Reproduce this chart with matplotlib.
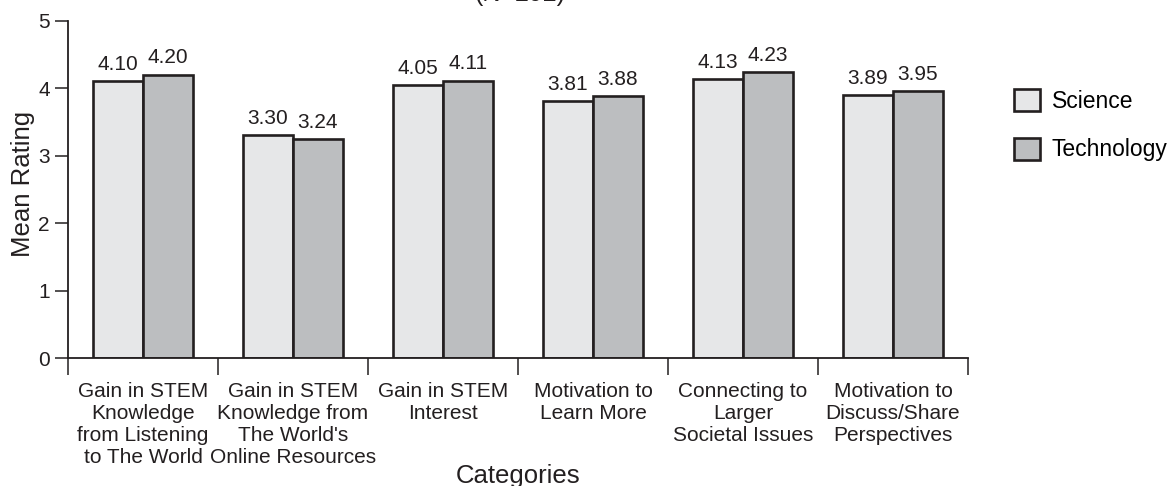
import matplotlib
matplotlib.use("Agg")
import matplotlib.pyplot as plt
import numpy as np

plt.rcParams['font.family'] = ['Liberation Sans', 'DejaVu Sans']

categories = [
    "Gain in STEM\nKnowledge\nfrom Listening\nto The World",
    "Gain in STEM\nKnowledge from\nThe World's\nOnline Resources",
    "Gain in STEM\nInterest",
    "Motivation to\nLearn More",
    "Connecting to\nLarger\nSocietal Issues",
    "Motivation to\nDiscuss/Share\nPerspectives",
]
science = [4.10, 3.30, 4.05, 3.81, 4.13, 3.89]
technology = [4.20, 3.24, 4.11, 3.88, 4.23, 3.95]
series_names = ["Science", "Technology"]
subtitle = "(N=292)"

ink = "#231f20"
c_sci = "#e6e7e8"
c_tech = "#bcbec0"

W, H = 1176, 486
fig = plt.figure(figsize=(W / 100, H / 100), dpi=100)
ax = fig.add_axes([68 / W, 1 - 358 / H, 900 / W, 337.5 / H])

x = np.arange(len(categories))
bw = 1 / 3
b1 = ax.bar(x - bw / 2, science, bw, color=c_sci, edgecolor=ink, linewidth=1.9,
            label=series_names[0], zorder=2)
b2 = ax.bar(x + bw / 2, technology, bw, color=c_tech, edgecolor=ink, linewidth=1.9,
            label=series_names[1], zorder=2)

# value labels above each bar
for bars, vals in ((b1, science), (b2, technology)):
    for rect, v in zip(bars, vals):
        ax.annotate(f"{v:.2f}", (rect.get_x() + rect.get_width() / 2, v),
                    xytext=(0, 8), textcoords="offset points",
                    ha="center", va="baseline", fontsize=15, color=ink)

ax.set_xlim(-0.5, len(categories) - 0.5)
ax.set_ylim(0, 5)
ax.set_yticks(range(6))

# category names at group centres, tick marks at group boundaries
ax.set_xticks(x)
ax.set_xticklabels(categories, fontsize=15, color=ink, linespacing=1.2)
ax.set_xticks(np.arange(-0.5, len(categories)), minor=True)
ax.tick_params(axis="x", which="major", length=0, pad=17)
ax.tick_params(axis="x", which="minor", length=12.2, width=1.1, color=ink, direction="out")
ax.tick_params(axis="y", length=9.4, width=1.1, color=ink, pad=3.6, labelsize=15,
               labelcolor=ink)

for side in ("top", "right"):
    ax.spines[side].set_visible(False)
for side in ("left", "bottom"):
    ax.spines[side].set_color(ink)
    ax.spines[side].set_linewidth(1.3)

ax.set_ylabel("Mean Rating", fontsize=18.5, color=ink)
ax.yaxis.set_label_coords((35 - 68) / 900, (358 - 184) / 337.5)
ax.set_xlabel("Categories", fontsize=18.5, color=ink)
ax.xaxis.set_label_coords(0.5, (358 - 464) / 337.5)

fig.legend(handles=[b1, b2], loc="upper left",
           bbox_to_anchor=(1014 / W, 1 - 89 / H), frameon=False,
           fontsize=16.5, handlelength=1.14, handleheight=1.09,
           handletextpad=0.5, labelspacing=1.09, borderpad=0, borderaxespad=0)

fig.text(520 / W, 1 - 1 / H, subtitle, ha="center", va="baseline",
         fontsize=18, color=ink)

fig.savefig("out.png", dpi=100)
